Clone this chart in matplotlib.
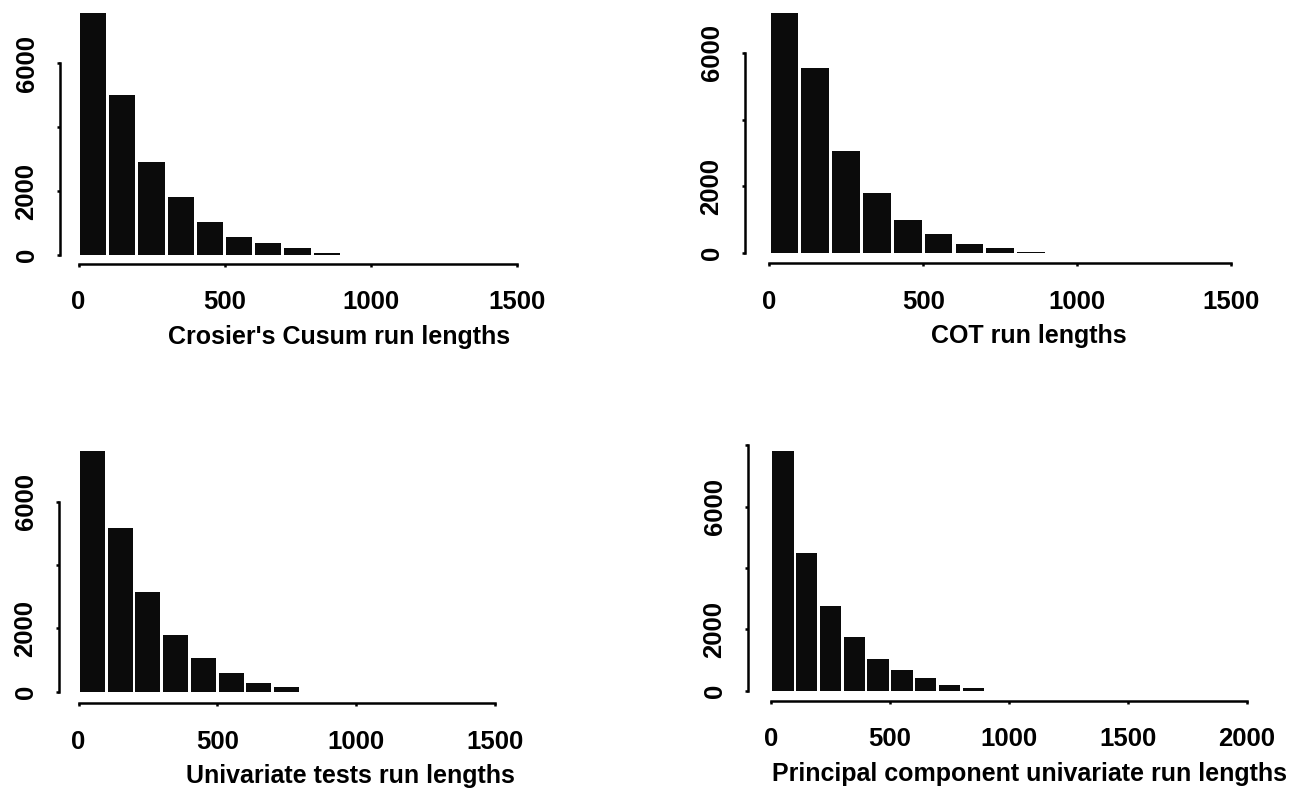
import numpy as np
import matplotlib
matplotlib.use("Agg")
import matplotlib.pyplot as plt

plt.rcParams['font.family'] = ['Liberation Sans', 'DejaVu Sans']
plt.rcParams['font.weight'] = 'bold'

W, H = 1301, 791

# histogram bins of width 100, counts
bin_left = [0, 100, 200, 300, 400, 500, 600, 700, 800]
crosier = [7580, 5000, 2900, 1820, 1020, 560, 360, 210, 70]
cot = [7175, 5550, 3060, 1790, 1000, 570, 270, 170, 45]
univariate = [7580, 5160, 3130, 1790, 1070, 580, 260, 140]
principal = [7820, 4490, 2770, 1740, 1040, 670, 400, 180, 80]

labels = ["Crosier's Cusum run lengths", "COT run lengths",
          "Univariate tests run lengths",
          "Principal component univariate run lengths"]
xticks_small = [0, 500, 1000, 1500]
xticks_big = [0, 500, 1000, 1500, 2000]
yticks_small = [0, 2000, 4000, 6000]
yticks_big = [0, 2000, 4000, 6000, 8000]


def panel(fig, counts, label, xt, yt, x0, kx, y0, ky, yspine, xspine, lab_x):
    # x0/y0 = pixel of data zero, kx/ky = pixels per unit
    xmax = xt[-1]
    ytop = 8000
    ax = fig.add_axes([x0 / W, (H - y0) / H, xmax * kx / W, ytop * ky / H])
    ax.bar(np.array(bin_left[:len(counts)]) + 5, counts, width=90,
           align='edge', color='#0b0b0b', linewidth=0)
    ax.set_xlim(0, xmax)
    ax.set_ylim(0, ytop)

    for s in ['top', 'right']:
        ax.spines[s].set_visible(False)
    ax.spines['left'].set_position(('outward', (x0 - yspine) * 0.72))
    ax.spines['bottom'].set_position(('outward', (xspine - y0) * 0.72))
    ax.spines['left'].set_bounds(0, yt[-1])
    ax.spines['bottom'].set_bounds(0, xmax)
    ax.spines['left'].set_linewidth(1.8)
    ax.spines['bottom'].set_linewidth(1.8)

    ax.set_xticks(xt)
    ax.set_xticklabels([str(v) for v in xt])
    ax.set_yticks(yt)
    ax.set_yticklabels([str(v) if v in (0, 2000, 6000) else '' for v in yt])
    ax.tick_params(axis='x', length=2.4, width=1.8, pad=16.5, labelsize=18.5)
    ax.tick_params(axis='y', length=2.4, width=1.8, pad=13, labelsize=18.5,
                   labelrotation=90)
    for t in ax.get_yticklabels():
        t.set_va('center')

    ax.set_xlabel(label, fontsize=18, fontweight='bold')
    ax.xaxis.set_label_coords((lab_x - x0) / (xmax * kx),
                              -(xspine - y0 + 61) / (ytop * ky))
    return ax


fig = plt.figure(figsize=(W / 100, H / 100), dpi=100)
panel(fig, crosier, labels[0], xticks_small, yticks_small,
      78.5, 0.292, 255, 0.03195, 60, 264, 339)
panel(fig, cot, labels[1], xticks_small, yticks_small,
      769, 0.3083, 253.3, 0.03343, 745, 263.3, 1029)
panel(fig, univariate, labels[2], xticks_small, yticks_small,
      78.6, 0.2773, 691.7, 0.0317, 59, 703.3, 350)
panel(fig, principal, labels[3], xticks_big, yticks_big,
      771, 0.238, 690.5, 0.03066, 748, 700.5, 1029.5)

fig.savefig("out.png", dpi=100)
